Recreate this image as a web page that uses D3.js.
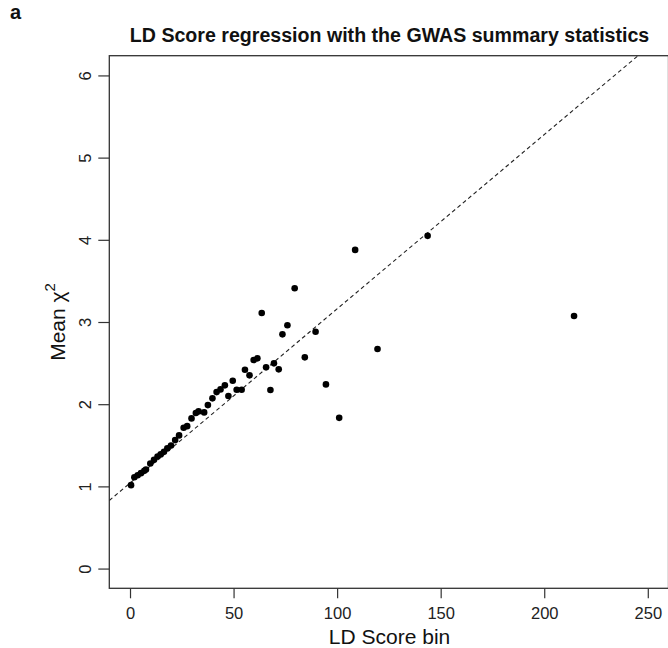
<!DOCTYPE html>
<html>
<head>
<meta charset="utf-8">
<script src="https://cdn.jsdelivr.net/npm/d3@7"></script>
<style>
  html, body { margin: 0; padding: 0; background: #fff; overflow: hidden; }
  text { font-family: "Liberation Sans", Arial, Helvetica, sans-serif; }
</style>
</head>
<body>
<svg id="chart" width="668" height="648"></svg>
<script>
// LD Score bin (x) and mean chi-square statistic (y) for each bin
const ldScoreBin = [
  0.5, 2.1, 3.7, 5.3, 6.9, 7.7, 9.8, 11.6, 13.3, 14.8,
  16.4, 18.0, 19.8, 21.8, 23.7, 25.9, 27.6, 29.7, 31.8, 33.1,
  35.8, 37.6, 39.8, 41.8, 43.7, 45.8, 47.5, 49.6, 51.5, 53.9,
  55.5, 57.7, 59.7, 61.5, 65.7, 67.8, 69.5, 71.8, 84.4, 63.6,
  73.6, 76.0, 79.5, 89.6, 94.6, 101.0, 108.7, 119.5, 143.7, 214.4
];
const meanChiSq = [
  1.015, 1.112, 1.136, 1.161, 1.189, 1.206, 1.279, 1.323, 1.364, 1.389,
  1.420, 1.462, 1.498, 1.563, 1.620, 1.713, 1.733, 1.827, 1.892, 1.912,
  1.900, 1.989, 2.071, 2.147, 2.180, 2.229, 2.099, 2.285, 2.175, 2.175,
  2.419, 2.351, 2.537, 2.558, 2.448, 2.172, 2.497, 2.424, 2.570, 3.110,
  2.850, 2.960, 3.410, 2.882, 2.241, 1.834, 3.877, 2.671, 4.048, 3.073
];

const xTickValues = [0, 50, 100, 150, 200, 250];
const yTickValues = [0, 1, 2, 3, 4, 5, 6];

// fitted regression line: mean chi2 = intercept + slope * LD score
const fitIntercept = 1.04;
const fitSlope = 0.0212;

const svg = d3.select("#chart");

const plotLeft = 109.3, plotRight = 668.5, plotTop = 55.7, plotBottom = 588.3;
const plotCenterX = (plotLeft + 669.8) / 2;
const x = d3.scaleLinear().domain([-10, 260]).range([plotLeft, plotRight]);
const y = d3.scaleLinear().domain([-0.24, 6.24]).range([plotBottom, plotTop]);

svg.append("defs").append("clipPath").attr("id", "plotArea")
  .append("rect")
  .attr("x", plotLeft).attr("y", plotTop)
  .attr("width", plotRight - plotLeft).attr("height", plotBottom - plotTop);

// panel letter
svg.append("text")
  .attr("x", 10).attr("y", 19)
  .attr("font-size", 20).attr("font-weight", "bold")
  .attr("fill", "#111")
  .text("a");

// title
svg.append("text")
  .attr("x", plotCenterX).attr("y", 42)
  .attr("text-anchor", "middle")
  .attr("font-size", 19.6).attr("font-weight", "bold")
  .attr("fill", "#111")
  .text("LD Score regression with the GWAS summary statistics");

// x axis
const xAxis = svg.append("g")
  .attr("transform", `translate(0,${plotBottom})`)
  .call(d3.axisBottom(x).tickValues(xTickValues).tickFormat(d3.format("d"))
    .tickSize(10).tickPadding(9));
xAxis.select(".domain").remove();
xAxis.selectAll("line").attr("stroke", "#333").attr("stroke-width", 1.2);
xAxis.selectAll("text")
  .attr("font-size", 16.5).attr("fill", "#222")
  .attr("font-family", "Liberation Sans, Arial, sans-serif");

// y axis, labels parallel to the axis
const yAxis = svg.append("g")
  .attr("transform", `translate(${plotLeft},0)`)
  .call(d3.axisLeft(y).tickValues(yTickValues).tickFormat(d3.format("d")).tickSize(11));
yAxis.select(".domain").remove();
yAxis.selectAll("line").attr("stroke", "#333").attr("stroke-width", 1.2);
yAxis.selectAll("text")
  .attr("x", null).attr("dy", null)
  .attr("text-anchor", "middle")
  .attr("transform", "translate(-18,0) rotate(-90)")
  .attr("font-size", 16.5).attr("fill", "#222")
  .attr("font-family", "Liberation Sans, Arial, sans-serif");

// plot frame
svg.append("rect")
  .attr("x", plotLeft).attr("y", plotTop)
  .attr("width", plotRight - plotLeft).attr("height", plotBottom - plotTop)
  .attr("fill", "none").attr("stroke", "#333").attr("stroke-width", 1.3);

// axis titles
svg.append("text")
  .attr("x", plotCenterX).attr("y", 644)
  .attr("text-anchor", "middle")
  .attr("font-size", 21).attr("fill", "#111")
  .text("LD Score bin");

const yTitle = svg.append("text")
  .attr("transform", `translate(65,${(plotTop + plotBottom) / 2}) rotate(-90)`)
  .attr("text-anchor", "middle")
  .attr("font-size", 21).attr("fill", "#111");
yTitle.append("tspan").text("Mean \u03C7");
yTitle.append("tspan").attr("dy", -10).attr("font-size", 15).text("2");

// regression line
const fitDomain = [-10, 260];
svg.append("g").attr("clip-path", "url(#plotArea)")
  .append("line")
  .attr("x1", x(fitDomain[0])).attr("y1", y(fitIntercept + fitSlope * fitDomain[0]))
  .attr("x2", x(fitDomain[1])).attr("y2", y(fitIntercept + fitSlope * fitDomain[1]))
  .attr("stroke", "#222").attr("stroke-width", 1.1)
  .attr("stroke-dasharray", "4,3");

// points
svg.append("g")
  .selectAll("circle")
  .data(ldScoreBin.map((v, i) => [v, meanChiSq[i]]))
  .join("circle")
  .attr("cx", d => x(d[0]))
  .attr("cy", d => y(d[1]))
  .attr("r", 3.3)
  .attr("fill", "#000");
</script>
</body>
</html>
